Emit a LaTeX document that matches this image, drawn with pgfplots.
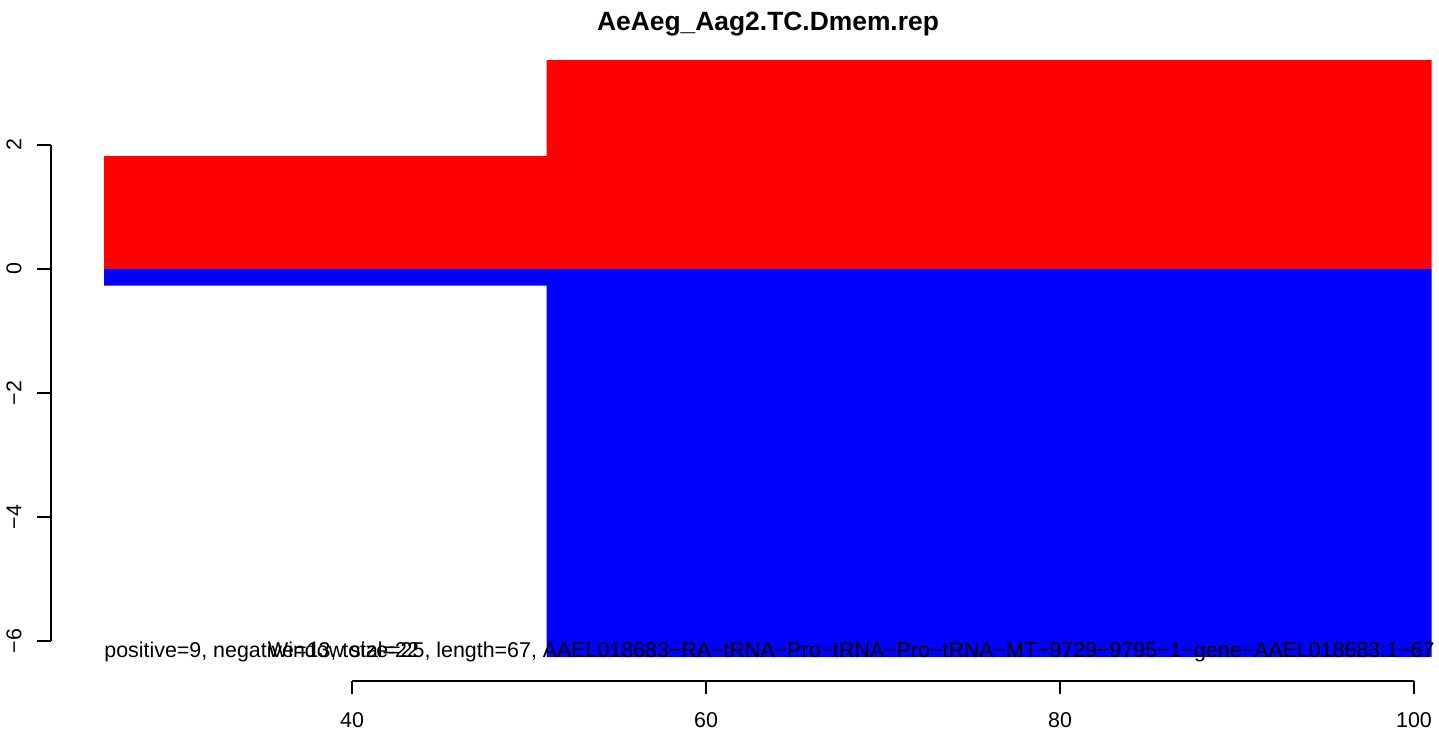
\documentclass[border=0pt]{standalone}
\usepackage{fontspec}
\setmainfont{Liberation Sans}
\usepackage{pgfplots}
\pgfplotsset{compat=1.18}
\begin{document}
\begin{tikzpicture}
\fontsize{10.7bp}{12.8bp}\selectfont
\path[use as bounding box] (0,0) rectangle (719.5bp,366bp);
\begin{axis}[
  at={(52bp,37.5bp)}, anchor=south west,
  scale only axis, width=664bp, height=298.5bp,
  xmin=26, xmax=101.02, ymin=-6.258, ymax=3.371,
  axis lines=none, clip=false,
]
\addplot[ybar interval, fill=red, draw=none] coordinates {(26,1.82) (51,3.371) (101,3.371)};
\addplot[ybar interval, fill=blue, draw=none] coordinates {(26,-0.27) (51,-6.258) (101,-6.258)};
\node[anchor=base west, inner sep=0pt] at (axis cs:26,-6.258) {positive=9, negative=13, total=22};
\node[anchor=base west, inner sep=0pt] at (axis cs:35.25,-6.258) {Window size=25, length=67, AAEL018683−RA−tRNA−Pro−tRNA−Pro−tRNA−MT−9729−9795−1−gene−AAEL018683:1−67};
\end{axis}
% title
\node at (384bp,354bp) {\fontsize{13.2bp}{15bp}\selectfont\bfseries AeAeg\_Aag2.TC.Dmem.rep};
% x axis
\draw[line width=0.9bp] (176bp,25.5bp) -- (707bp,25.5bp);
\foreach \x/\l in {176/40,353/60,530/80,707/100}{
  \draw[line width=0.9bp] (\x bp,25.5bp) -- (\x bp,19bp);
  \node at (\x bp,6bp) {\l};
}
% y axis
\draw[line width=0.9bp] (25.5bp,45.5bp) -- (25.5bp,293.5bp);
\foreach \y/\l in {293.5/2,231.5/0,169.5/−2,107.5/−4,45.5/−6}{
  \draw[line width=0.9bp] (25.5bp,\y bp) -- (18.5bp,\y bp);
  \node[rotate=90] at (7bp,\y bp) {\l};
}
\end{tikzpicture}
\end{document}
